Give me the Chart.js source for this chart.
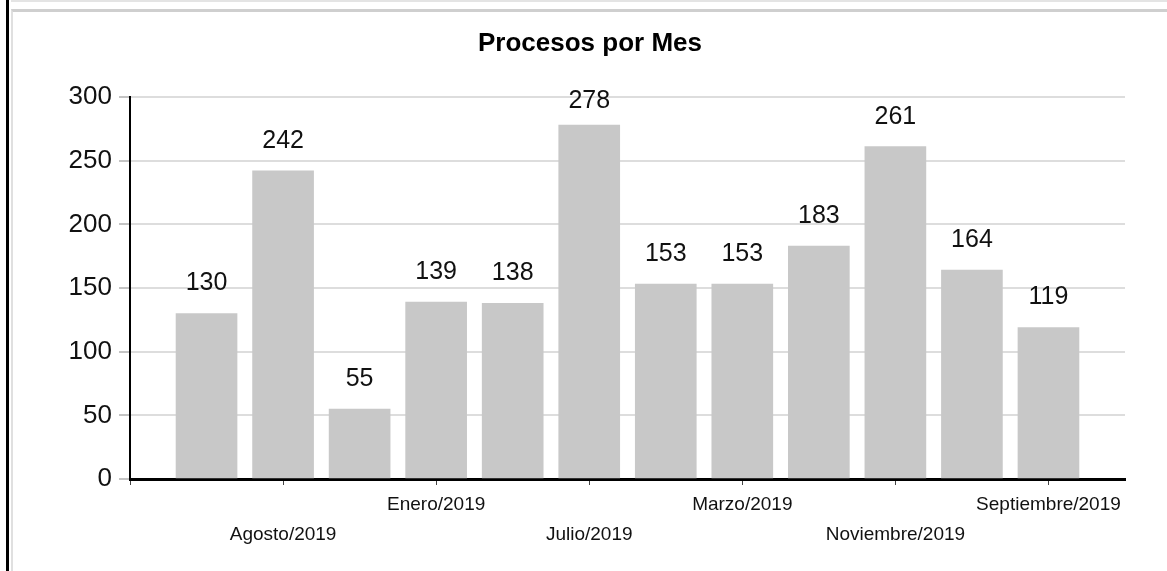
<!DOCTYPE html>
<html>
<head>
<meta charset="utf-8">
<script src="https://cdn.jsdelivr.net/npm/chart.js@4.4.1/dist/chart.umd.min.js"></script>
<style>
    body { margin: 0; background: #fff; }
    #frame {
        position: absolute; left: 6px; top: 0; width: 1161px; height: 571px;
        border-left: 3px solid #000; box-sizing: border-box;
    }
    #inner {
        position: absolute; left: 2px; top: 0; right: 0; bottom: 0;
        border-top: 2px solid #e4e4e4;
    }
    #panel {
        position: absolute; left: 0; top: 7px; right: 0; bottom: 0;
        border-top: 3px solid #cfcfcf; border-left: 2px solid #e0e0e0;
    }
    #wrap { position: absolute; left: 0; top: 0; width: 1154px; height: 559px; }
</style>
</head>
<body>
<div id="frame"><div id="inner"><div id="panel">
    <div id="wrap"><canvas id="procesosChart" width="1154" height="559"></canvas></div>
</div></div></div>
<script>
    // Procesos por mes (meses en orden alfabetico, como en el original)
    const months = ['Abril/2019', 'Agosto/2019', 'Diciembre/2019', 'Enero/2019', 'Febrero/2019', 'Julio/2019',
        'Junio/2019', 'Marzo/2019', 'Mayo/2019', 'Noviembre/2019', 'Octubre/2019', 'Septiembre/2019'];
    const procesos = [130, 242, 55, 139, 138, 278, 153, 153, 183, 261, 164, 119];
    const yTicks = [0, 50, 100, 150, 200, 250, 300];
    const chartTitle = 'Procesos por Mes';

    const font = 'Liberation Sans, Arial, sans-serif';

    // title centred on the whole canvas + numbers above each bar
    const valueLabels = {
        id: 'valueLabels',
        afterDatasetsDraw(chart) {
            const ctx = chart.ctx;
            const meta = chart.getDatasetMeta(0);
            ctx.save();
            ctx.fillStyle = '#000';
            ctx.textAlign = 'center';
            ctx.textBaseline = 'middle';
            ctx.font = 'bold 26px ' + font;
            ctx.fillText(chartTitle, chart.width / 2, 32);

            ctx.fillStyle = '#111';
            ctx.font = '25px ' + font;
            meta.data.forEach((bar, i) => {
                // keep the label from climbing above the plot top
                const y = Math.max(bar.y - 30, chart.chartArea.top + 4);
                ctx.fillText(procesos[i], bar.x, y);
            });
            ctx.restore();
        }
    };

    const procesosChart = new Chart(document.getElementById('procesosChart'), {
        type: 'bar',
        data: {
            datasets: [{
                label: 'Procesos',
                data: procesos.map((v, i) => ({ x: i + 1, y: v })),
                backgroundColor: '#c8c8c8',
                barThickness: 61
            }]
        },
        plugins: [valueLabels],
        options: {
            responsive: false,
            animation: false,
            layout: { padding: { left: 0, right: 42, top: 85, bottom: 0 } },
            plugins: {
                legend: { display: false },
                tooltip: { enabled: false },
                title: { display: false }
            },
            scales: {
                x: {
                    type: 'linear',
                    offset: false,
                    min: 0,
                    max: 13,
                    afterFit: (scale) => { scale.height = 92; },
                    grid: { offset: false, drawOnChartArea: false, drawTicks: true, tickLength: 6, color: '#444', lineWidth: 1 },
                    border: { color: '#000', width: 3 },
                    ticks: {
                        stepSize: 2,
                        includeBounds: false,
                        autoSkip: false,
                        maxRotation: 0,
                        padding: 5,
                        color: '#111',
                        font: { family: font, size: 19, lineHeight: 1.58 },
                        callback: (value) => {
                            if (value === 0) return '';
                            const label = months[value - 1];
                            // alternate rows so the long labels do not collide
                            return (value / 2) % 2 === 0 ? [label, ''] : ['', label];
                        }
                    }
                },
                y: {
                    min: 0,
                    max: 300,
                    afterFit: (scale) => { scale.width = 117; },
                    afterBuildTicks: (scale) => { scale.ticks = yTicks.map(v => ({ value: v })); },
                    grid: { color: '#dddddd', lineWidth: 2, tickLength: 11, tickColor: '#888', tickWidth: 1 },
                    border: { color: '#000', width: 2 },
                    ticks: {
                        padding: 7,
                        color: '#111',
                        font: { family: font, size: 26 }
                    }
                }
            }
        }
    });
</script>
</body>
</html>
